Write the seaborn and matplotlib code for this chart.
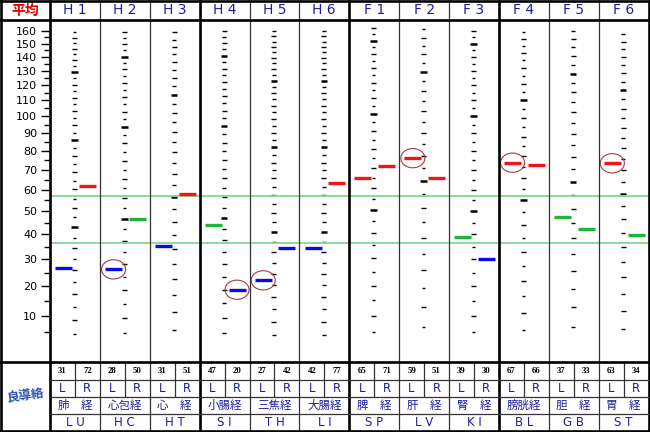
import numpy as np
import pandas as pd
import matplotlib
matplotlib.use("Agg")
import matplotlib.pyplot as plt
import seaborn as sns
from matplotlib.path import Path

# ---------------- data ----------------
codes = ["H1", "H2", "H3", "H4", "H5", "H6", "F1", "F2", "F3", "F4", "F5", "F6"]
abbr = ["LU", "HC", "HT", "SI", "TH", "LI", "SP", "LV", "KI", "BL", "GB", "ST"]
names = ["肺　経", "心包経", "心　経", "小腸経", "三焦経", "大腸経",
         "脾　経", "肝　経", "腎　経", "膀胱経", "胆　経", "胃　経"]
left_vals = [31, 28, 31, 47, 27, 42, 65, 59, 39, 67, 37, 63]
right_vals = [72, 50, 51, 20, 42, 77, 71, 51, 30, 66, 33, 34]
# per-meridian normalisation factor (raw value -> average scale)
scale_factor = [0.86, 0.935, 1.135, 0.94, 0.82, 0.82, 1.015, 1.29, 1.0, 1.10, 1.28, 1.165]
band_low, band_high = 36.5, 57.0
circled = [("H2", "L"), ("H4", "R"), ("H5", "L"), ("F2", "L"), ("F4", "L"), ("F6", "L")]
axis_ticks = [10, 20, 30, 40, 50, 60, 70, 80, 90, 100, 110, 120, 130, 140, 150, 160]
axis_minor = [5, 15, 25, 35, 45, 55, 65, 75, 85, 95, 105, 115, 125, 135, 145, 155]
dash_step = 5
dash_top = 162.5

# ---------------- style ----------------
sns.set_theme(style="white")
plt.rcParams["font.family"] = ["DejaVu Sans", "Noto Sans CJK JP"]
CJK = ["Noto Sans CJK JP", "DejaVu Sans"]
NAVY = "#1e1e9c"
C_LOW, C_MID, C_HIGH = "#0a0ae6", "#1fb43c", "#f01414"
GREEN_LINE = "#82d894"

W_PX, H_PX = 650, 432
X0, X1 = 50, 648.5
Y_TOP, Y_BOT = 20, 362
W = (X1 - X0) / len(codes)

fig = plt.figure(figsize=(W_PX / 100, H_PX / 100), dpi=100)
ax = fig.add_axes([X0 / W_PX, 1 - Y_BOT / H_PX, (X1 - X0) / W_PX, (Y_BOT - Y_TOP) / H_PX])

fwd = lambda v: np.log(np.maximum(np.asarray(v, dtype=float) + 90.0, 1e-6))
inv = lambda t: np.exp(t) - 90.0
ax.set_yscale("function", functions=(fwd, inv))
ax.set_xlim(0, len(codes))
ax.set_ylim(-3.75, 169.0)
ax.set_facecolor("white")
for s in ax.spines.values():
    s.set_visible(False)

ax.set_xticks([])
ax.set_yticks(axis_ticks)
ax.set_yticks(axis_minor, minor=True)
ax.set_yticklabels([str(t) for t in axis_ticks])
ax.tick_params(axis="y", which="major", direction="out", length=6.5, width=1.0,
               color="black", labelsize=8, pad=2.8, left=True, labelcolor="black")
ax.tick_params(axis="y", which="minor", direction="out", length=4.0, width=1.0,
               color="black", left=True)

# per-column scale dashes
for i, k in enumerate(scale_factor):
    raw = np.arange(dash_step, 400, dash_step)
    raw = raw[raw * k <= dash_top]
    pos = raw * k
    cx = i + 0.49
    bold = raw % 50 == 0
    ten = (raw % 10 == 0) & ~bold
    five = ~(bold | ten)
    ax.hlines(pos[bold], cx - 0.065, cx + 0.065, color="black", lw=1.8, zorder=2)
    ax.hlines(pos[ten], cx - 0.05, cx + 0.05, color="black", lw=1.0, zorder=2)
    ax.hlines(pos[five], cx - 0.035, cx + 0.035, color="black", lw=1.0, zorder=2)

# normal band
for b in (band_low, band_high):
    ax.axhline(b, color=GREEN_LINE, lw=1.3, zorder=3)

# marks
rows = []
for i, c in enumerate(codes):
    for side, vals, off in (("L", left_vals, 0.275), ("R", right_vals, 0.75)):
        v = vals[i] * scale_factor[i]
        status = "low" if v < band_low else ("high" if v > band_high else "mid")
        rows.append(dict(code=c, side=side, x=i + off, y=v, status=status,
                         circled=(c, side) in circled))
df = pd.DataFrame(rows)
sns.scatterplot(data=df, x="x", y="y", hue="status", marker="_", s=150,
                linewidth=2.4, palette={"low": C_LOW, "mid": C_MID, "high": C_HIGH},
                legend=False, ax=ax, zorder=5)
ax.set_xlabel("")
ax.set_ylabel("")

th = np.linspace(0, 2 * np.pi, 60)
ell = Path(np.column_stack([np.cos(th), 0.8 * np.sin(th)]))
cd = df[df["circled"]]
ax.scatter(cd["x"], cd["y"], marker=ell, s=300, facecolors="none",
           edgecolors="#a83c3c", linewidths=0.8, zorder=6)

# ---------------- frame, header, table ----------------
fa = fig.add_axes([0, 0, 1, 1], zorder=3)
fa.set_xlim(0, W_PX)
fa.set_ylim(H_PX, 0)
fa.axis("off")
fa.patch.set_alpha(0)

def xb(i):
    return X0 + i * W

THICK, THIN = 1.9, 0.9
# vertical column boundaries
for i in range(len(codes) + 1):
    lw = THICK if i % 3 == 0 else THIN
    col = "black" if i % 3 == 0 else "#333333"
    fa.plot([xb(i), xb(i)], [0, 431], color=col, lw=lw, solid_capstyle="butt")
# L/R sub-dividers in table rows 1-2
for i in range(len(codes)):
    xm = xb(i) + W / 2
    fa.plot([xm, xm], [Y_BOT, 396.5], color="#333333", lw=THIN)
# horizontal lines
fa.plot([0, W_PX], [1, 1], color="black", lw=THICK)
fa.plot([0, W_PX], [Y_TOP, Y_TOP], color="black", lw=THICK)
fa.plot([0, W_PX], [Y_BOT, Y_BOT], color="black", lw=THICK)
for yy in (379.5, 396.5, 413.5):
    fa.plot([X0, X1], [yy, yy], color="#333333", lw=THIN)
fa.plot([0, W_PX], [430.8, 430.8], color="black", lw=THICK)
fa.plot([1, 1], [0, 432], color="black", lw=THICK)

# header
fa.text(25, 10.5, "平均", color="#e60000", fontsize=10, fontweight="bold",
        ha="center", va="center", family=CJK)
for i, c in enumerate(codes):
    fa.text(xb(i) + W / 2, 10.5, c[0] + " " + c[1], color=NAVY, fontsize=10,
            ha="center", va="center")

# table
for i in range(len(codes)):
    xl, xr, xc = xb(i) + W * 0.25, xb(i) + W * 0.75, xb(i) + W / 2
    fa.text(xl, 371, str(left_vals[i]), fontsize=6.3, ha="center", va="center",
            color="black", family="Liberation Serif", fontweight="bold")
    fa.text(xr, 371, str(right_vals[i]), fontsize=6.3, ha="center", va="center",
            color="black", family="Liberation Serif", fontweight="bold")
    fa.text(xl, 388.3, "L", fontsize=8.5, ha="center", va="center", color=NAVY)
    fa.text(xr, 388.3, "R", fontsize=8.5, ha="center", va="center", color=NAVY)
    fa.text(xc, 405, names[i], fontsize=8.3, ha="center", va="center", color=NAVY,
            family=CJK)
    fa.text(xc, 422, abbr[i][0] + " " + abbr[i][1], fontsize=8.5, ha="center",
            va="center", color=NAVY)

fa.text(25, 396, "良導絡", color="#2a4fb0", fontsize=9, fontweight="bold",
        ha="center", va="center", family=CJK, rotation=8)

fig.savefig("out.png", dpi=100)
